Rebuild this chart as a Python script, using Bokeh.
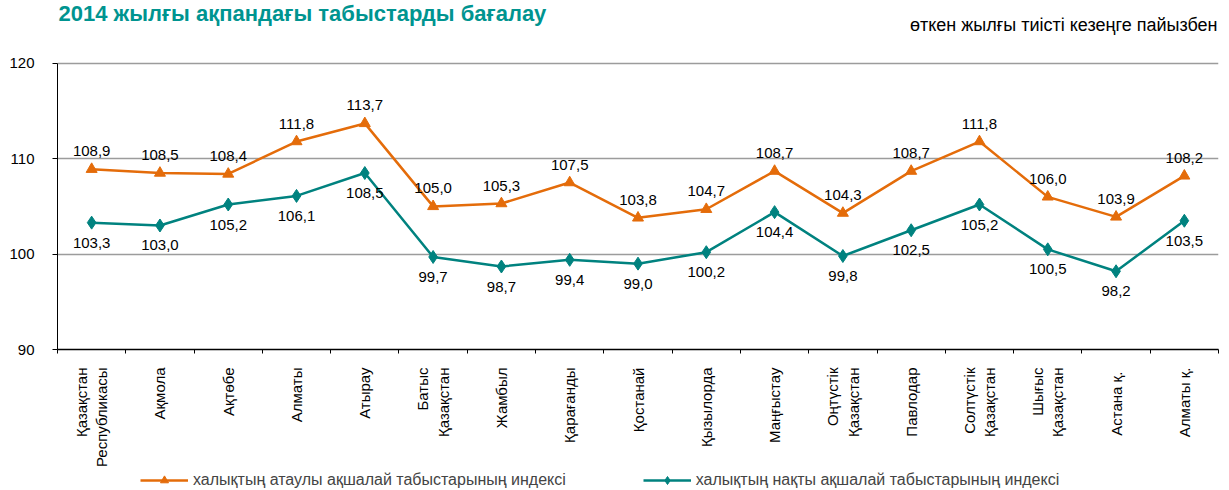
import math
from bokeh.plotting import figure
from bokeh.layouts import column
from bokeh.models import ColumnDataSource, FixedTicker, Legend, LegendItem
from bokeh.core.properties import value
from bokeh.embed import file_html
from bokeh.resources import INLINE

# ---- data ----
categories = ["Қазақстан\nРеспубликасы", "Ақмола", "Ақтөбе", "Алматы", "Атырау",
              "Батыс\nҚазақстан", "Жамбыл", "Қарағанды", "Қостанай", "Қызылорда",
              "Маңғыстау", "Оңтүстік\nҚазақстан", "Павлодар", "Солтүстік\nҚазақстан",
              "Шығыс\nҚазақстан", "Астана  қ.", "Алматы қ."]
nominal = [108.9, 108.5, 108.4, 111.8, 113.7, 105.0, 105.3, 107.5, 103.8, 104.7,
           108.7, 104.3, 108.7, 111.8, 106.0, 103.9, 108.2]
real = [103.3, 103.0, 105.2, 106.1, 108.5, 99.7, 98.7, 99.4, 99.0, 100.2,
        104.4, 99.8, 102.5, 105.2, 100.5, 98.2, 103.5]
y_ticks = [90, 100, 110, 120]
series_names = ["халықтың атаулы ақшалай табыстарының индексі",
                "халықтың нақты ақшалай табыстарының индексі"]
title_text = "2014 жылғы ақпандағы табыстарды бағалау"
subtitle_text = "өткен жылғы тиісті кезеңге пайызбен"

ORANGE = "#E46C0A"
TEAL = "#00827F"
FONT = "Liberation Sans"
W = 1229
MAIN_H, FOOT_H = 470, 20
TOP_GAP = 63          # pixels between canvas top and the 120 gridline
PLOT_H = 287          # pixels between 120 and 90

xs = list(range(len(categories)))
fmt = lambda v: f"{v:.1f}".replace(".", ",")
y_lo, y_hi = min(y_ticks), max(y_ticks)
y_top = y_hi + TOP_GAP * (y_hi - y_lo) / PLOT_H   # frame extends up to the canvas top

src_n = ColumnDataSource(dict(x=xs, y=nominal, t=[fmt(v) for v in nominal]))
src_r = ColumnDataSource(dict(x=xs, y=real, t=[fmt(v) for v in real]))

x_start, x_end = -0.5, len(categories) - 0.5
p = figure(width=W, height=MAIN_H, x_range=(x_start, x_end), y_range=(y_lo, y_top),
           output_backend="svg", toolbar_location=None,
           min_border_left=57, min_border_right=11, min_border_top=0,
           min_border_bottom=MAIN_H - TOP_GAP - PLOT_H)
p.outline_line_color = None

p.yaxis.ticker = FixedTicker(ticks=y_ticks)
p.yaxis.bounds = (y_lo, y_hi)
p.yaxis.major_tick_out = 5
p.yaxis.major_tick_in = 0
p.yaxis.minor_tick_line_color = None
p.yaxis.major_label_standoff = 18
p.yaxis.major_label_text_font = FONT
p.yaxis.major_label_text_font_size = "15px"
p.yaxis.major_label_text_color = "black"
p.yaxis.axis_line_color = "black"

p.xaxis.ticker = FixedTicker(ticks=xs, minor_ticks=[i - 0.5 for i in range(len(categories) + 1)])
p.xaxis.major_label_overrides = {i: c for i, c in enumerate(categories)}
p.xaxis.major_tick_line_color = None
p.xaxis.major_tick_out = 0
p.xaxis.major_tick_in = 0
p.xaxis.minor_tick_line_color = "black"
p.xaxis.minor_tick_out = 4
p.xaxis.minor_tick_in = 0
p.xaxis.major_label_orientation = math.pi / 2
p.xaxis.major_label_standoff = 14
p.xaxis.major_label_text_font = FONT
p.xaxis.major_label_text_font_size = "15px"
p.xaxis.major_label_text_color = "black"
p.xaxis.axis_line_color = "black"
p.xaxis.axis_line_width = 1.5

p.xgrid.grid_line_color = None
p.ygrid.ticker = FixedTicker(ticks=y_ticks)
p.ygrid.grid_line_color = "#9c9c9c"
p.ygrid.grid_line_width = 1.5

p.line("x", "y", source=src_n, line_color=ORANGE, line_width=2.5)
p.scatter("x", "y", source=src_n, marker="triangle", size=11,
          fill_color=ORANGE, line_color=ORANGE)
p.line("x", "y", source=src_r, line_color=TEAL, line_width=2.5)
p.scatter("x", "y", source=src_r, marker="diamond", size=13,
          fill_color=TEAL, line_color=TEAL)

p.text("x", "y", text="t", source=src_n, text_align="center", text_baseline="middle",
       y_offset=-18, text_font_size="15px", text_color="black", text_font=value(FONT))
p.text("x", "y", text="t", source=src_r, text_align="center", text_baseline="middle",
       y_offset=20, text_font_size="15px", text_color="black", text_font=value(FONT))

# title and subtitle inside the (upward-extended) frame
p.text(x=[x_start], y=[y_top], text=[title_text], text_font=value(FONT),
       text_font_size="22px", text_font_style="bold", text_color="#009490",
       text_align="left", text_baseline="top", x_offset=1, y_offset=0)
p.text(x=[x_end], y=[y_top], text=[subtitle_text], text_font=value(FONT),
       text_font_size="18px", text_color="black",
       text_align="right", text_baseline="middle", x_offset=-1, y_offset=24)

# ---- footer strip holding the legend ----
f = figure(width=W, height=FOOT_H, x_range=(x_start, x_end), y_range=(0, 1),
           x_axis_type=None, y_axis_type=None, output_backend="svg",
           toolbar_location=None, min_border=0, min_border_left=57,
           min_border_right=11, min_border_top=0, min_border_bottom=0)
f.outline_line_color = None
f.grid.visible = False
# same series drawn in the strip (outside its visible y-range) to feed the legend
fl1 = f.line("x", "y", source=src_n, line_color=ORANGE, line_width=2.5)
fm1 = f.scatter("x", "y", source=src_n, marker="triangle", size=11,
                fill_color=ORANGE, line_color=ORANGE)
fl2 = f.line("x", "y", source=src_r, line_color=TEAL, line_width=2.5)
fm2 = f.scatter("x", "y", source=src_r, marker="diamond", size=13,
                fill_color=TEAL, line_color=TEAL)

legend = Legend(items=[LegendItem(label=series_names[0], renderers=[fl1, fm1]),
                       LegendItem(label=series_names[1], renderers=[fl2, fm2])],
                location=(83, 0), orientation="horizontal", padding=0, margin=0,
                spacing=77, glyph_width=48, glyph_height=20, label_standoff=5,
                border_line_color=None, background_fill_alpha=0,
                label_text_font=FONT, label_text_font_size="16px",
                label_height=20)
f.add_layout(legend)

layout = column(p, f, spacing=0)
open("out.html", "w").write(file_html(layout, INLINE))
